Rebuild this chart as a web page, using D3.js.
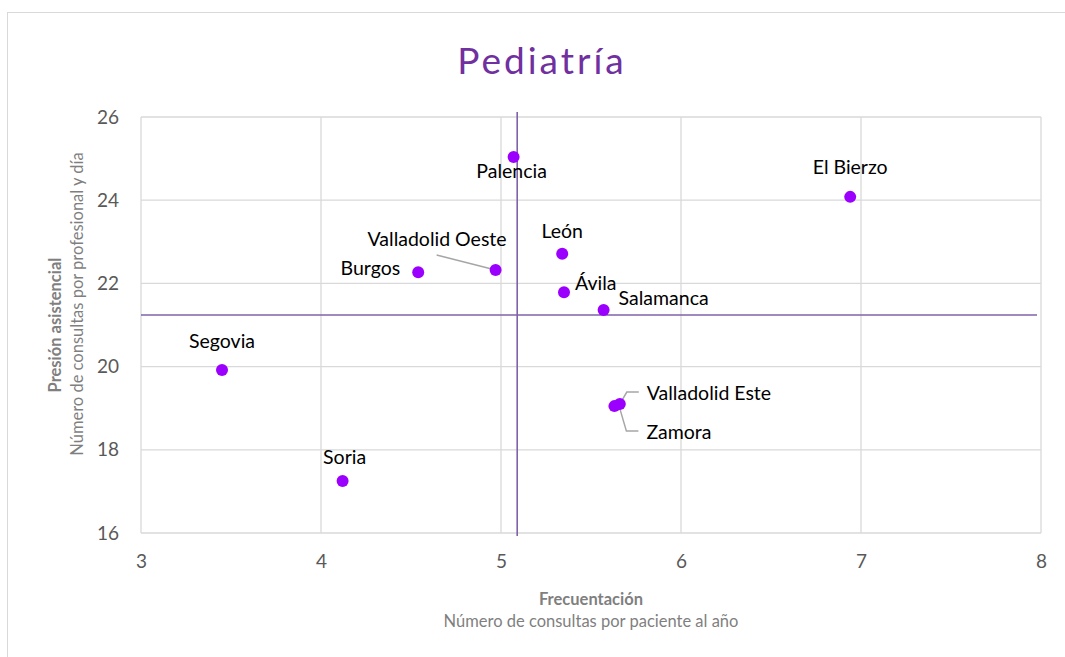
<!DOCTYPE html>
<html><head><meta charset="utf-8">
<script src="https://cdn.jsdelivr.net/npm/d3@7"></script>
<style>body{margin:0;background:#fff}svg{display:block}</style>
</head><body>
<svg id="c" width="1065" height="657"></svg>
<script>
const names = ["Palencia","El Bierzo","León","Valladolid Oeste","Burgos","Ávila","Salamanca","Segovia","Valladolid Este","Zamora","Soria"];
const frecuentacion = [5.07,6.94,5.34,4.97,4.54,5.35,5.57,3.45,5.66,5.63,4.12];
const presion = [25.04,24.08,22.71,22.32,22.27,21.79,21.36,19.92,19.10,19.05,17.25];
const xTicks = [3,4,5,6,7,8];
const yTicks = [16,18,20,22,24,26];
const refX = 5.09, refY = 21.24;

// label placement (pixel offsets from point; styling only)
const place = {
  "Palencia":{dx:-2,dy:21,anchor:"middle"},
  "El Bierzo":{dx:0,dy:-23,anchor:"middle"},
  "León":{dx:0,dy:-16,anchor:"middle"},
  "Valladolid Oeste":{dx:11,dy:-24,anchor:"end",leader:[[-59,-15],[0,0]]},
  "Burgos":{dx:-18,dy:3,anchor:"end"},
  "Ávila":{dx:11,dy:-2,anchor:"start"},
  "Salamanca":{dx:15,dy:-5,anchor:"start"},
  "Segovia":{dx:0,dy:-22,anchor:"middle"},
  "Valladolid Este":{dx:27,dy:-4,anchor:"start",leader:[[19,-12],[7,-12],[0,0]]},
  "Zamora":{dx:32,dy:33,anchor:"start",leader:[[5,1],[12,25],[24,25]]},
  "Soria":{dx:2,dy:-17,anchor:"middle"}
};

const svg = d3.select("#c");
const font = "Lato, 'Open Sans', sans-serif";
const L=141, R=1041, T=117, B=533;
const x = d3.scaleLinear().domain([3,8]).range([L,R]);
const y = d3.scaleLinear().domain([16,26]).range([B,T]);

svg.append("rect").attr("x",7.5).attr("y",12.5).attr("width",1070).attr("height",660)
  .attr("fill","#fff").attr("stroke","#d9d9d9");

svg.append("text").attr("x",542).attr("y",74).attr("text-anchor","middle")
  .attr("font-family",font).attr("font-size",37).attr("fill","#7030a0")
  .attr("letter-spacing",3).text("Pediatría");

const grid = svg.append("g").attr("stroke","#d9d9d9").attr("stroke-width",1.3);
xTicks.forEach(t=>grid.append("line").attr("x1",x(t)).attr("x2",x(t)).attr("y1",T).attr("y2",B));
yTicks.forEach(t=>grid.append("line").attr("x1",L).attr("x2",R).attr("y1",y(t)).attr("y2",y(t)));

const xAxis = svg.append("g").attr("transform",`translate(0,${B})`)
  .call(d3.axisBottom(x).tickValues(xTicks).tickSize(0).tickPadding(22).tickFormat(d3.format("d")));
const yAxis = svg.append("g").attr("transform",`translate(${L},0)`)
  .call(d3.axisLeft(y).tickValues(yTicks).tickSize(0).tickPadding(22).tickFormat(d3.format("d")));
[xAxis,yAxis].forEach(a=>{a.select(".domain").remove();
  a.selectAll("text").attr("font-family",font).attr("font-size",19).attr("fill","#595959");});

// reference lines
svg.append("line").attr("x1",x(refX)).attr("x2",x(refX)).attr("y1",112).attr("y2",536)
  .attr("stroke","#7f62a8").attr("stroke-width",1.6);
svg.append("line").attr("x1",L).attr("x2",1037).attr("y1",y(refY)).attr("y2",y(refY))
  .attr("stroke","#7f62a8").attr("stroke-width",1.6);

// axis titles
svg.append("text").attr("x",591).attr("y",605).attr("text-anchor","middle").attr("font-family",font)
  .attr("font-size",16.5).attr("font-weight","bold").attr("fill","#7f7f7f").text("Frecuentación");
svg.append("text").attr("x",591).attr("y",627).attr("text-anchor","middle").attr("font-family",font)
  .attr("font-size",16.5).attr("fill","#7f7f7f").text("Número de consultas por paciente al año");
svg.append("text").attr("transform","translate(61,325) rotate(-90)").attr("text-anchor","middle").attr("font-family",font)
  .attr("font-size",16.5).attr("font-weight","bold").attr("fill","#7f7f7f").text("Presión asistencial");
svg.append("text").attr("transform","translate(83,304) rotate(-90)").attr("text-anchor","middle").attr("font-family",font)
  .attr("font-size",16.5).attr("fill","#7f7f7f").text("Número de consultas por profesional y día");

const data = names.map((n,i)=>({name:n,fx:frecuentacion[i],py:presion[i]}));

// leaders
const line = d3.line();
data.forEach(d=>{const p=place[d.name]; if(p.leader){
  const px=x(d.fx), py=y(d.py);
  svg.append("path").attr("d",line(p.leader.map(q=>[px+q[0],py+q[1]])))
    .attr("fill","none").attr("stroke","#a6a6a6").attr("stroke-width",1.5);
}});

svg.append("g").selectAll("circle").data(data).join("circle")
  .attr("cx",d=>x(d.fx)).attr("cy",d=>y(d.py)).attr("r",6).attr("fill","#9b00ff");

svg.append("g").selectAll("text").data(data).join("text")
  .attr("x",d=>x(d.fx)+place[d.name].dx).attr("y",d=>y(d.py)+place[d.name].dy)
  .attr("text-anchor",d=>place[d.name].anchor).attr("font-family",font).attr("font-size",19.5)
  .attr("fill","#000").text(d=>d.name);
</script>
</body></html>
